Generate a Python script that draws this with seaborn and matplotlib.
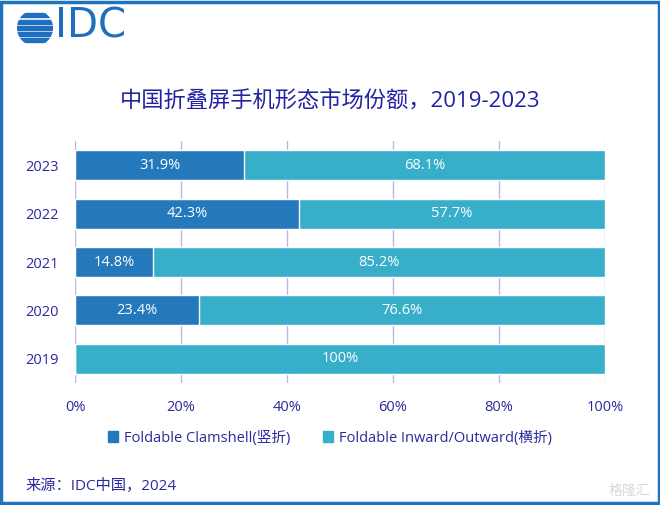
import matplotlib
matplotlib.use('Agg')
import pandas as pd
import seaborn as sns
import matplotlib.pyplot as plt
from matplotlib.patches import Rectangle, Circle

years = ['2023', '2022', '2021', '2020', '2019']
clamshell = [31.9, 42.3, 14.8, 23.4, 0.0]
inward = [68.1, 57.7, 85.2, 76.6, 100.0]
series_names = ['Foldable Clamshell(竖折)', 'Foldable Inward/Outward(横折)']
xticks = [0, 20, 40, 60, 80, 100]

c_clam = '#2479BD'
c_inw = '#38AFCA'
c_text = '#2B2A9C'
c_grid = '#BDB6EC'


def fmt(v):
    return f'{v:.0f}%' if v == 100 else f'{v:.1f}%'


if __name__ == '__main__':
    sns.set_style('white')
    plt.rcParams['font.family'] = ['Open Sans', 'Noto Sans CJK SC', 'DejaVu Sans']

    df = pd.DataFrame({'Year': years, 'Clamshell': clamshell, 'Inward': inward})
    df['Total'] = df['Clamshell'] + df['Inward']

    fig = plt.figure(figsize=(6.6, 5.05), dpi=100)
    ax = fig.add_axes([75 / 660, 1 - 383 / 505, 530 / 660, 242 / 505])

    sns.barplot(data=df, y='Year', x='Total', order=years, color=c_inw,
                width=0.62, saturation=1, ax=ax, orient='h')
    sns.barplot(data=df, y='Year', x='Clamshell', order=years, color=c_clam,
                width=0.62, saturation=1, ax=ax, orient='h')

    for i, (cl, iw) in enumerate(zip(clamshell, inward)):
        if cl > 0:
            ax.text(cl / 2, i, fmt(cl), ha='center', va='center', color='white', fontsize=10.5)
        if iw > 0:
            ax.text(cl + iw / 2, i, fmt(iw), ha='center', va='center', color='white', fontsize=10.5)

    ax.set_xlim(0, 100)
    ax.set_ylim(4.5, -0.5)
    ax.set_xticks(xticks)
    ax.set_xticklabels([f'{t}%' for t in xticks])
    ax.xaxis.grid(True, color=c_grid, linewidth=1)
    ax.set_axisbelow(True)
    for s in ax.spines.values():
        s.set_visible(False)
    ax.axvline(0, color=c_grid, linewidth=1.2, zorder=0)
    ax.tick_params(axis='both', colors=c_text, labelsize=10.5, length=0)
    ax.tick_params(axis='x', pad=12)
    ax.tick_params(axis='y', pad=12)
    ax.set_xlabel('')
    ax.set_ylabel('')

    fig.text(0.5, 1 - 101 / 505, '中国折叠屏手机形态市场份额，2019-2023', ha='center', va='center',
             color='#2222A0', fontsize=16)

    handles = [Rectangle((0, 0), 1, 1, color=c_clam), Rectangle((0, 0), 1, 1, color=c_inw)]
    fig.legend(handles, series_names, loc='center', bbox_to_anchor=(0.5, 1 - 438 / 505), ncol=2,
               frameon=False, fontsize=10.5, labelcolor=c_text, handlelength=0.7, handleheight=0.7,
               handletextpad=0.4, columnspacing=2.2)

    fig.text(25 / 660, 1 - 486 / 505, '来源：IDC中国，2024', ha='left', va='center',
             color=c_text, fontsize=11)
    fig.text(650 / 660, 1 - 491 / 505, '格隆汇', ha='right', va='center', color='#D8D8D8', fontsize=10)

    # IDC logo
    fig.text(55 / 660, 1 - 27 / 505, 'IDC', ha='left', va='center', color='#1F6FC0',
             fontsize=29, family='DejaVu Sans')
    lax = fig.add_axes([17 / 660, 1 - 46 / 505, 36 / 660, 36 / 505])
    lax.set_xlim(-1, 1)
    lax.set_ylim(-1, 1)
    lax.set_aspect('equal')
    lax.axis('off')
    clip = Circle((0, 0), 1, transform=lax.transData)
    for yy in [-0.8, -0.45, -0.1, 0.25, 0.6]:
        r = Rectangle((-1, yy), 2, 0.22, color='#1F6FC0')
        lax.add_patch(r)
        r.set_clip_path(clip)

    fig.patches.append(Rectangle((0.002, 0.003), 0.996, 0.994, transform=fig.transFigure,
                                 fill=False, edgecolor='#1E73BE', linewidth=2.5))

    fig.savefig('out.png', dpi=100, facecolor='white')
